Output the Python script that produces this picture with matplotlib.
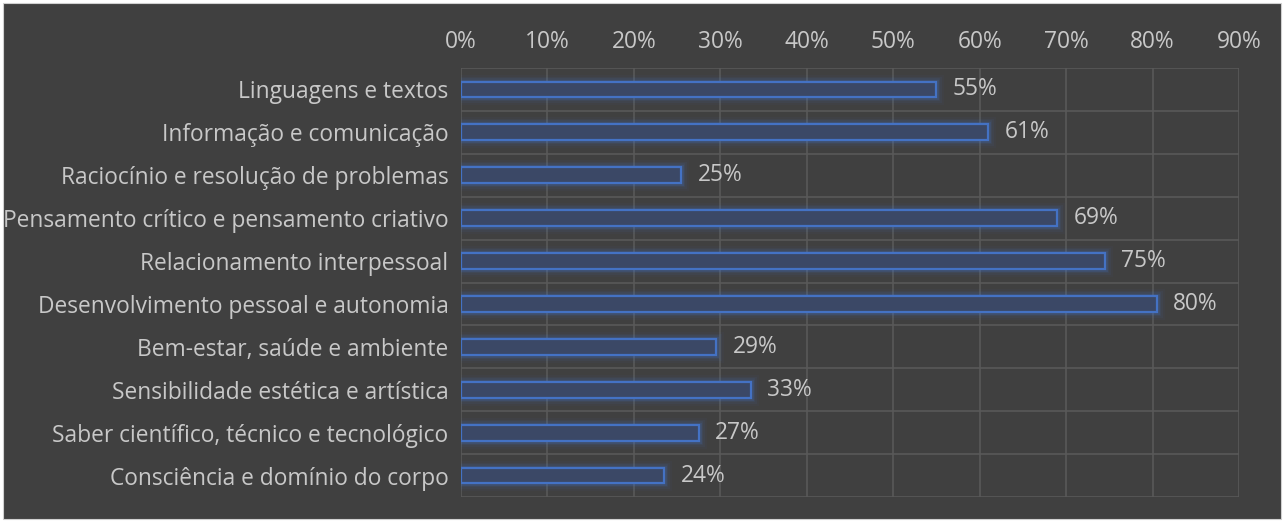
import numpy as np
import matplotlib
matplotlib.use('Agg')
import matplotlib.pyplot as plt
from matplotlib.patches import Rectangle
from matplotlib.ticker import FuncFormatter

# ============================================================
# 数据
# ============================================================
categories = [
    'Linguagens e textos',
    'Informação e comunicação',
    'Raciocínio e resolução de problemas',
    'Pensamento crítico e pensamento criativo',
    'Relacionamento interpessoal',
    'Desenvolvimento pessoal e autonomia',
    'Bem-estar, saúde e ambiente',
    'Sensibilidade estética e artística',
    'Saber científico, técnico e tecnológico',
    'Consciência e domínio do corpo',
]
values = [0.55, 0.61, 0.255, 0.69, 0.745, 0.805, 0.295, 0.335, 0.275, 0.235]
labels = ['55%', '61%', '25%', '69%', '75%', '80%', '29%', '33%', '27%', '24%']
x_ticks = [0.0, 0.1, 0.2, 0.3, 0.4, 0.5, 0.6, 0.7, 0.8, 0.9]

BG = '#404040'
GRID = '#595959'
TXT = '#c8c8c8'
EDGE = '#4472c4'
FILL = '#3b4866'
FS = 16.4

plt.rcParams['font.family'] = ['Open Sans', 'DejaVu Sans']

fig = plt.figure(figsize=(12.84, 5.22), dpi=100, facecolor='white')
fig.patches.append(Rectangle((3 / 1284, 3 / 522), 1 - 6 / 1284, 1 - 6 / 522,
                             transform=fig.transFigure, facecolor=BG,
                             edgecolor='#d0d0d0', lw=0.8, zorder=-10))

ax = fig.add_axes([461 / 1284, 1 - 497 / 522, (1239 - 461) / 1284, (497 - 68) / 522])
ax.set_zorder(5)
ax.set_facecolor('none')

y = np.arange(len(categories))
h = 0.37

# 发光效果: 多层半透明边框
for lw, a in [(11, 0.04), (8, 0.07), (5.5, 0.11), (3.5, 0.18)]:
    ax.barh(y, values, height=h, left=0, color='none', edgecolor=EDGE,
            linewidth=lw, alpha=a, zorder=2)
ax.barh(y, values, height=h, left=0, color=FILL, edgecolor=EDGE,
        linewidth=1.6, zorder=3)

for yi, v, lab in zip(y, values, labels):
    ax.text(v + 0.019, yi, lab, va='center', ha='left', color=TXT,
            fontsize=FS, zorder=4)

ax.set_xlim(0, 0.9)
ax.set_ylim(len(categories) - 0.5, -0.5)
ax.set_xticks(x_ticks)
ax.xaxis.set_major_formatter(FuncFormatter(lambda v, p: f'{v * 100:.0f}%'))
ax.xaxis.tick_top()
ax.set_yticks(y)
ax.set_yticklabels(categories)
ax.tick_params(axis='both', length=0, colors=TXT, labelsize=FS)
ax.tick_params(axis='x', pad=10)
ax.tick_params(axis='y', pad=9)

# 网格
ax.set_yticks(np.arange(len(categories) + 1) - 0.5, minor=True)
ax.grid(True, axis='x', which='major', color=GRID, lw=1.2, zorder=1)
ax.grid(True, axis='y', which='minor', color=GRID, lw=1.2, zorder=1)
ax.tick_params(axis='y', which='minor', length=0)
for s in ax.spines.values():
    s.set_visible(False)
ax.set_axisbelow(True)

plt.savefig('out.png', dpi=100, facecolor='white')
